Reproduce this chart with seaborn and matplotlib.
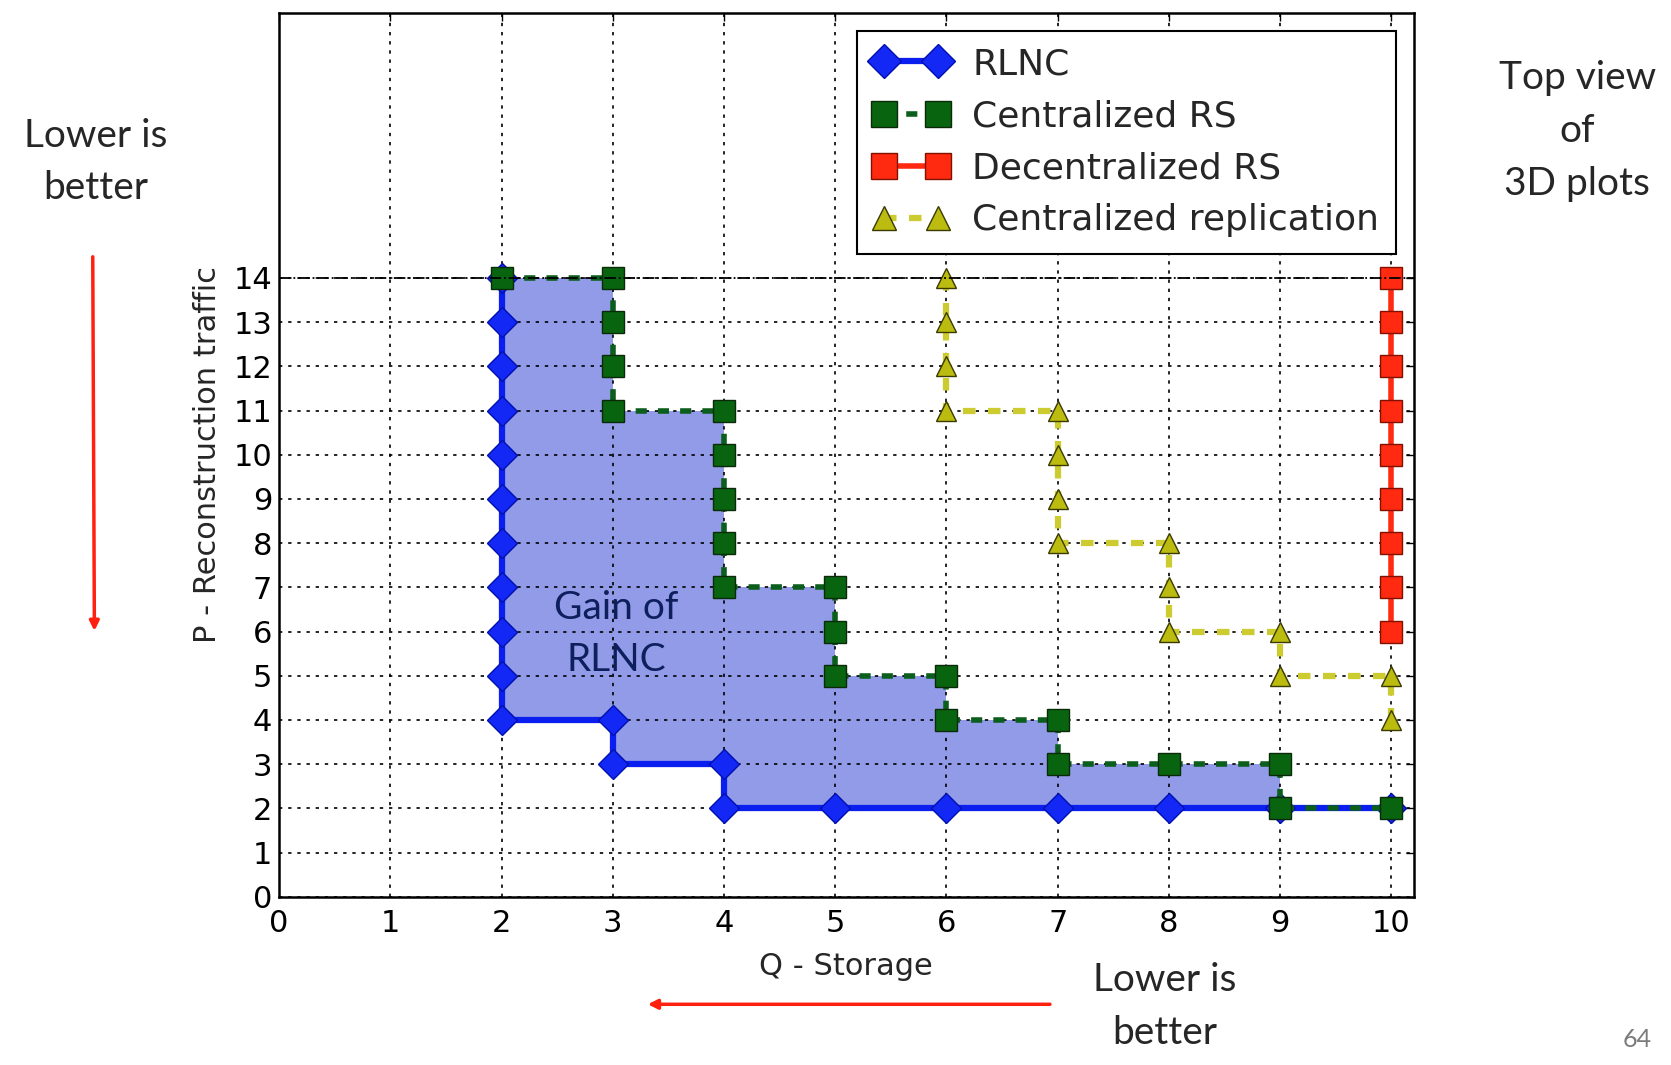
import matplotlib
matplotlib.use("Agg")
import matplotlib.pyplot as plt
import seaborn as sns

# RLNC (blue diamonds, solid)
rlnc_q = [2, 2, 2, 2, 2, 2, 2, 2, 2, 2, 2, 3, 3, 4, 4, 5, 6, 7, 8, 9, 10]
rlnc_p = [14, 13, 12, 11, 10, 9, 8, 7, 6, 5, 4, 4, 3, 3, 2, 2, 2, 2, 2, 2, 2]

# Centralized RS (green squares, dashed)
crs_q = [2, 3, 3, 3, 3, 4, 4, 4, 4, 4, 5, 5, 5, 6, 6, 7, 7, 8, 9, 9, 10]
crs_p = [14, 14, 13, 12, 11, 11, 10, 9, 8, 7, 7, 6, 5, 5, 4, 4, 3, 3, 3, 2, 2]

# Decentralized RS (red squares, solid)
drs_q = [10, 10, 10, 10, 10, 10, 10, 10, 10]
drs_p = [14, 13, 12, 11, 10, 9, 8, 7, 6]

# Centralized replication (yellow triangles, dashed)
crep_q = [6, 6, 6, 6, 7, 7, 7, 7, 8, 8, 8, 9, 9, 10, 10]
crep_p = [14, 13, 12, 11, 11, 10, 9, 8, 8, 7, 6, 6, 5, 5, 4]

# shaded "gain" region between RLNC and centralized RS
gain_q = [2, 3, 4, 5, 6, 7, 8, 9]
gain_upper = [14, 11, 7, 5, 4, 3, 3, 3]
gain_lower = [4, 3, 2, 2, 2, 2, 2, 2]

x_ticks = list(range(0, 11))
y_ticks = list(range(0, 15))

sns.set_style("white")
plt.rcParams['font.family'] = ['DejaVu Sans']

fig = plt.figure(figsize=(16.71, 10.65), dpi=100)
ax = fig.add_axes([0.167, 0.158, 0.679, 0.830])

ax.fill_between(gain_q, gain_lower, gain_upper, step='post',
                color='#929be8', linewidth=0, zorder=0.5)

handles = []
sns.lineplot(x=rlnc_q, y=rlnc_p, sort=False, estimator=None, ax=ax,
             color='#0a1ef0', linewidth=4.5, marker='D', markersize=15,
             markerfacecolor='#1428f5', markeredgecolor='#0010b0',
             markeredgewidth=1, legend=False, zorder=2)
handles.append(ax.lines[-1])
sns.lineplot(x=crs_q, y=crs_p, sort=False, estimator=None, ax=ax,
             color='#0b5e1c', linewidth=4, linestyle=(0, (2, 2)),
             marker='s', markersize=16, markerfacecolor='#08640f',
             markeredgecolor='#0a2a0a', markeredgewidth=1,
             legend=False, zorder=2.2)
handles.append(ax.lines[-1])
sns.lineplot(x=drs_q, y=drs_p, sort=False, estimator=None, ax=ax,
             color='#ff2a10', linewidth=4, marker='s', markersize=16,
             markerfacecolor='#ff2a10', markeredgecolor='#801000',
             markeredgewidth=1, legend=False, zorder=2)
handles.append(ax.lines[-1])
sns.lineplot(x=crep_q, y=crep_p, sort=False, estimator=None, ax=ax,
             color='#cccc30', linewidth=4.5, linestyle=(0, (2, 2)),
             marker='^', markersize=15, markerfacecolor='#bcbc10',
             markeredgecolor='#3a3a00', markeredgewidth=1,
             legend=False, zorder=2)
handles.append(ax.lines[-1])

ax.axhline(14, color='black', linewidth=1.3, linestyle='-.', zorder=2.6)

ax.text(3.03, 5.95, "Gain of\nRLNC", ha='center', va='center',
        fontsize=28, color='#0d1f5c', family='Lato', linespacing=1.55)

ax.set_xlim(0, 10.2)
ax.set_ylim(0, 20)
ax.set_xticks(x_ticks)
ax.set_yticks(y_ticks)
ax.grid(True, color='black', linestyle=(0, (2, 3.5)), linewidth=1.2)
ax.tick_params(axis='both', direction='in', length=6, width=1, top=True,
               right=True, labelsize=22, colors='black')
ax.tick_params(axis='x', pad=9)
ax.tick_params(axis='y', pad=5)
for s in ax.spines.values():
    s.set_color('black')
    s.set_linewidth(1.8)

ax.set_xlabel("Q - Storage", fontsize=22, labelpad=10)
ax.set_ylabel("P - Reconstruction traffic", fontsize=22, labelpad=8)

leg = ax.legend(handles, ["RLNC", "Centralized RS", "Decentralized RS",
                          "Centralized replication"],
                loc='upper right', fontsize=26, numpoints=2,
                fancybox=False, framealpha=1, handlelength=2.1,
                borderaxespad=0.5, labelspacing=0.5, markerscale=1.15,
                handletextpad=0.65, borderpad=0.45)
leg.get_frame().set_edgecolor('black')
leg.get_frame().set_linewidth(1.5)

# slide annotations around the chart
fig.text(0.0574, 0.848, "Lower is\nbetter", ha='center', va='center',
         fontsize=28, family='Lato', linespacing=1.55)
fig.text(0.944, 0.877, "Top view\nof\n3D plots", ha='center', va='center',
         fontsize=28, family='Lato', linespacing=1.6)
fig.text(0.697, 0.055, "Lower is\nbetter", ha='center', va='center',
         fontsize=28, family='Lato', linespacing=1.6)
fig.text(0.980, 0.024, "64", ha='center', va='center', fontsize=18,
         color='#7a7a7a', family='Lato')

ax.annotate("", xy=(0.0565, 0.405), xytext=(0.0555, 0.7615),
            xycoords='figure fraction', textcoords='figure fraction',
            arrowprops=dict(arrowstyle='-|>', color='#ff2010', lw=2.5,
                            mutation_scale=14))
ax.annotate("", xy=(0.386, 0.057), xytext=(0.630, 0.057),
            xycoords='figure fraction', textcoords='figure fraction',
            arrowprops=dict(arrowstyle='-|>', color='#ff2010', lw=2.5,
                            mutation_scale=14))

fig.savefig("out.png", dpi=100)
